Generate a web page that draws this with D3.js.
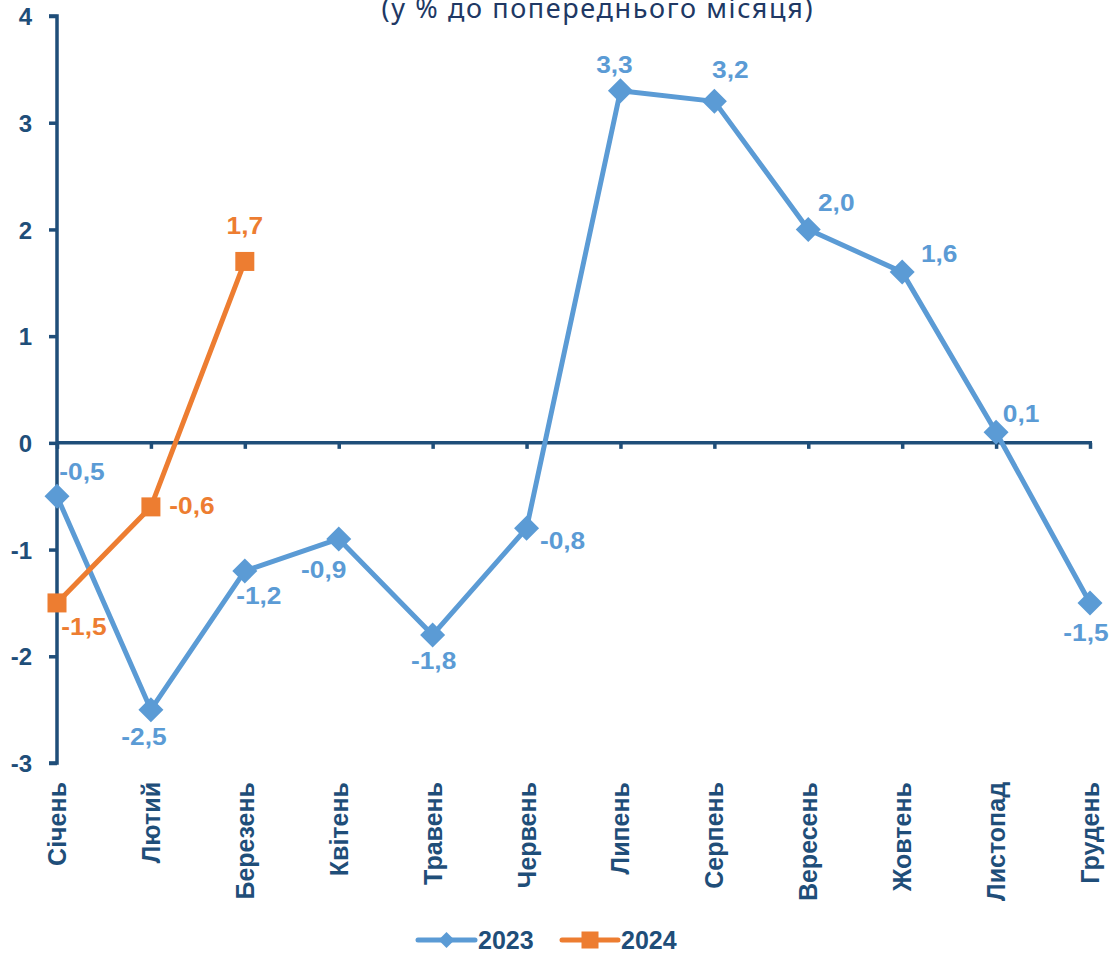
<!DOCTYPE html>
<html>
<head>
<meta charset="utf-8">
<script src="https://cdn.jsdelivr.net/npm/d3@7"></script>
<style>
  html, body { margin: 0; padding: 0; background: #fff; }
  svg { display: block; }
</style>
</head>
<body>
<svg id="chart" width="1112" height="953"></svg>
<script>
const months = ["Січень","Лютий","Березень","Квітень","Травень","Червень","Липень","Серпень","Вересень","Жовтень","Листопад","Грудень"];
const values2023 = [-0.5, -2.5, -1.2, -0.9, -1.8, -0.8, 3.3, 3.2, 2.0, 1.6, 0.1, -1.5];
const values2024 = [-1.5, -0.6, 1.7];
const yTicks = [-3, -2, -1, 0, 1, 2, 3, 4];
const seriesNames = ["2023", "2024"];
const titleText = "(у % до попереднього місяця)";
// label offsets (px) relative to marker, for readability as in the original
const labelOffsets2023 = [[25,-25],[-7,27],[14,25],[-15,31],[1,26],[36,12],[-6,-26],[16,-32],[28,-27],[37,-19],[25,-19],[-4,30]];
const labelOffsets2024 = [[27,24],[41,-1],[0,-36]];

const blue = "#5B9BD5", orange = "#ED7D31", axisColor = "#1F4E79", titleColor = "#203864";
const font = "'Liberation Sans', Arial, sans-serif";

const svg = d3.select("#chart");
const x = d3.scalePoint().domain(months).range([57, 1090]);
const y = d3.scaleLinear().domain([-3, 4]).range([763, 16]);
const fmt = v => d3.format(".1f")(v).replace(".", ",").replace("−", "-");

// title (partially cut off at top, as in the original)
svg.append("text")
  .attr("x", 597).attr("y", 18)
  .attr("text-anchor", "middle")
  .attr("font-family", "'Noto Sans', 'Open Sans', sans-serif")
  .attr("font-size", 27)
  .attr("fill", titleColor)
  .attr("textLength", 431)
  .text(titleText);

// Y axis
const yAxis = d3.axisLeft(y).tickValues(yTicks).tickSize(8).tickFormat(d => d3.format("d")(d).replace("−", "-"));
const gy = svg.append("g").attr("transform", `translate(${x(months[0])},0)`).call(yAxis);
gy.select(".domain").attr("stroke", axisColor).attr("stroke-width", 3.5).attr("d", `M-8,${y(4)}H0V${y(-3)}H-8`);
gy.selectAll(".tick line").attr("stroke", axisColor).attr("stroke-width", 3.5);
gy.selectAll(".tick text")
  .attr("font-family", font).attr("font-size", 24).attr("font-weight", "bold")
  .attr("fill", axisColor).attr("x", -25).attr("dy", "0.36em");

// X axis at zero
const xAxis = d3.axisBottom(x).tickSize(6).tickFormat("");
const gx = svg.append("g").attr("transform", `translate(0,${y(0)})`).call(xAxis);
gx.select(".domain").attr("stroke", axisColor).attr("stroke-width", 3.5)
  .attr("d", `M${x(months[0])},0H${x(months[11]) + 2}`);
gx.selectAll(".tick line").attr("stroke", axisColor).attr("stroke-width", 3.5);

// X category labels (rotated) below plot
svg.append("g").selectAll("text").data(months).join("text")
  .attr("transform", d => `translate(${x(d)},782) rotate(-90)`)
  .attr("text-anchor", "end")
  .attr("dy", "0.36em")
  .attr("font-family", font).attr("font-size", 25).attr("font-weight", "bold")
  .attr("fill", axisColor)
  .text(d => d);

const line = d3.line().x(d => x(d.m)).y(d => y(d.v));
const data2023 = values2023.map((v, i) => ({ m: months[i], v, off: labelOffsets2023[i] }));
const data2024 = values2024.map((v, i) => ({ m: months[i], v, off: labelOffsets2024[i] }));

// 2023 series
svg.append("path").datum(data2023).attr("d", line)
  .attr("fill", "none").attr("stroke", blue).attr("stroke-width", 5).attr("stroke-linejoin", "round");
svg.append("g").selectAll("path").data(data2023).join("path")
  .attr("transform", d => `translate(${x(d.m)},${y(d.v)})`)
  .attr("d", "M0,-12.5L12.5,0L0,12.5L-12.5,0Z")
  .attr("fill", blue);

// 2024 series
svg.append("path").datum(data2024).attr("d", line)
  .attr("fill", "none").attr("stroke", orange).attr("stroke-width", 5).attr("stroke-linejoin", "round");
svg.append("g").selectAll("rect").data(data2024).join("rect")
  .attr("x", d => x(d.m) - 9.5).attr("y", d => y(d.v) - 9.5)
  .attr("width", 19).attr("height", 19)
  .attr("fill", orange);

// data labels
function labels(data, color) {
  svg.append("g").selectAll("text").data(data).join("text")
    .attr("transform", d => `translate(${x(d.m) + d.off[0]},${y(d.v) + d.off[1]}) scale(1.12,1)`)
    .attr("text-anchor", "middle")
    .attr("dy", "0.36em")
    .attr("font-family", font).attr("font-size", 23.5).attr("font-weight", "bold")
    .attr("fill", color)
    .text(d => fmt(d.v));
}
labels(data2023, blue);
labels(data2024, orange);

// legend
const legend = svg.append("g");
const legendItems = [
  { name: seriesNames[0], color: blue, x0: 418, x1: 475, shape: "diamond" },
  { name: seriesNames[1], color: orange, x0: 562, x1: 618, shape: "square" }
];
legendItems.forEach(it => {
  const cx = (it.x0 + it.x1) / 2;
  legend.append("line").attr("x1", it.x0).attr("x2", it.x1).attr("y1", 940).attr("y2", 940)
    .attr("stroke", it.color).attr("stroke-width", 5).attr("stroke-linecap", "round");
  if (it.shape === "diamond") {
    legend.append("path").attr("transform", `translate(${cx},940)`)
      .attr("d", "M0,-8L8,0L0,8L-8,0Z").attr("fill", it.color);
  } else {
    legend.append("rect").attr("x", cx - 8.5).attr("y", 931.5).attr("width", 17).attr("height", 17).attr("fill", it.color);
  }
  legend.append("text").attr("x", it.x1 + 3).attr("y", 948.5)
    .attr("font-family", font).attr("font-size", 25).attr("font-weight", "bold")
    .attr("fill", axisColor).text(it.name);
});
</script>
</body>
</html>
